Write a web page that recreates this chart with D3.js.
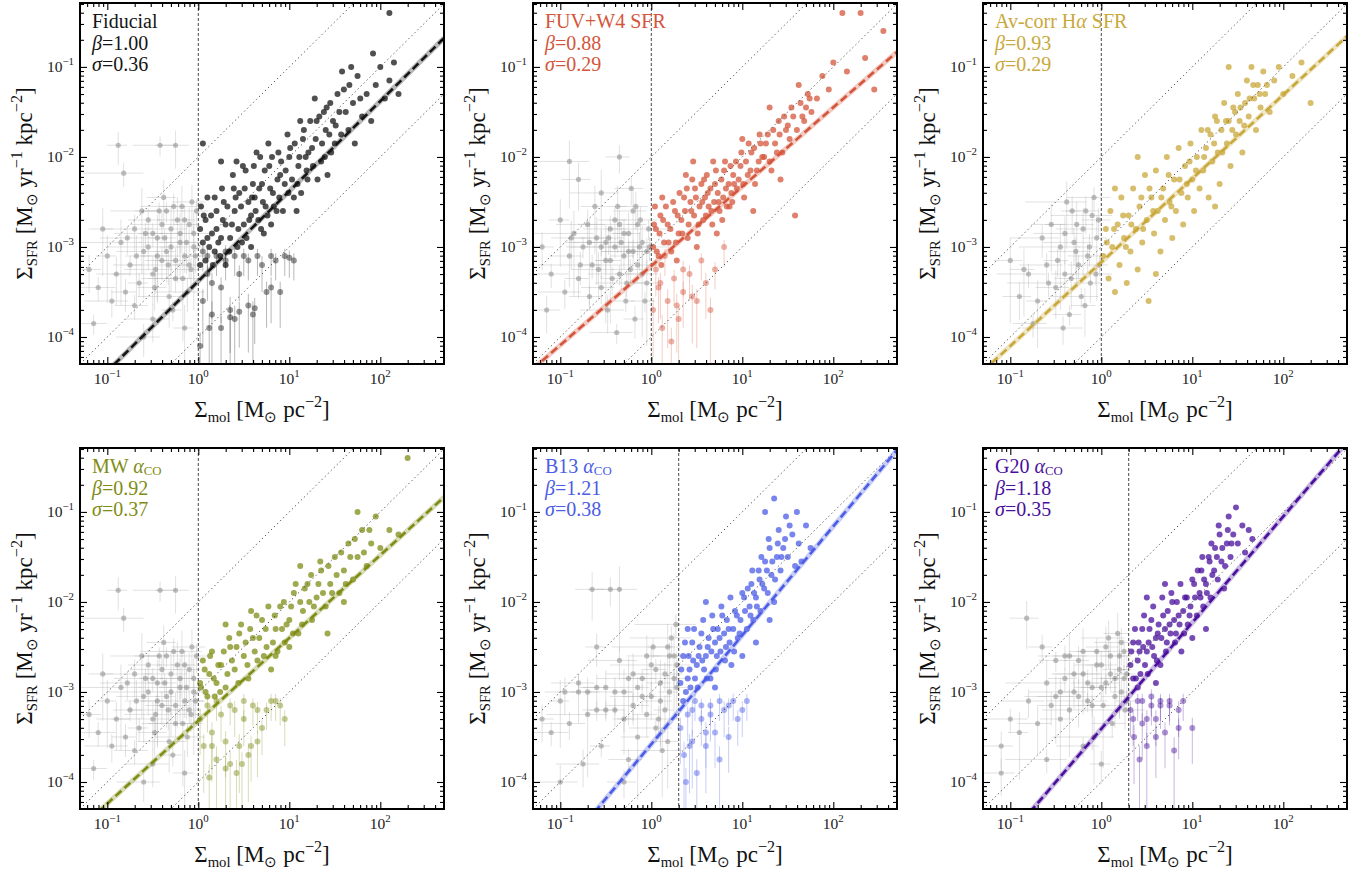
<!DOCTYPE html>
<html>
<head>
<meta charset="utf-8">
<script src="https://cdn.jsdelivr.net/npm/d3@7"></script>
<style>
body { margin: 0; background: #fff; }
text { font-family: "Liberation Serif", "Times New Roman", serif; }
</style>
</head>
<body>
<script>
// all point values are log10(Sigma_mol), log10(Sigma_SFR) [, fractional y error]
var fiducialPts = [
  [0.05,-3.6,0.7],[0.1,-3.3,0.5],[0.15,-3.75,0.8],[0.2,-3.1,0.4],[0.25,-3.45,0.6],[0.3,-3.15,0.4],[0.35,-3.7,0.8],
  [0.4,-3.8,0.8],[0.45,-3.3,0.5],[0.5,-3.1,0.4],[0.55,-3.65,0.7],[0.6,-3.75,0.8],[0.7,-3.2,0.5],[0.75,-3.5,0.6],
  [0.05,-3.05,0.4],[0.12,-3.9,0.85],[0.65,-3.1,0.4],[0.85,-3.15,0.4],[0.95,-3.1,0.4],[1.05,-3.15,0.4],[0.02,-4.1,0.85],
  [0.1,-3.1,0.4],[0.3,-3.05,0.35],[0.4,-3.1,0.4],[0.55,-3.15,0.4],[0.8,-3.1,0.4],[1.0,-3.12,0.4],[0.35,-3.78,0.6],
  [0.45,-3.72,0.6],[0.62,-3.68,0.6],[0.25,-3.9,0.7],[0.15,-3.4,0.6],[0.9,-3.5,0.6],[0.8,-3.45,0.6],
  [0.02,-2.8],[0.05,-2.95],[0.08,-2.7],[0.12,-3.0],[0.15,-2.85],[0.2,-2.6],[0.25,-2.9],[0.3,-2.75],[0.03,-2.55],
  [0.1,-2.45],[0.18,-3.05],[0.28,-2.5],[0.35,-2.9],[0.4,-2.6],[0.45,-2.4],[0.5,-2.75],[0.55,-2.5],[0.6,-2.3],
  [0.38,-2.2],[0.48,-2.95],[0.58,-2.65],[0.42,-2.05],[0.52,-2.15],[0.62,-2.45],[0.66,-2.7],[0.7,-2.3],[0.74,-2.55],
  [0.78,-2.1],[0.82,-2.4],[0.86,-2.6],[0.9,-2.2],[0.68,-2.0],[0.8,-2.75],[0.88,-1.95],[0.72,-2.85],[0.95,-2.3],
  [1.0,-2.0],[1.05,-2.45],[1.1,-2.1],[1.15,-1.8],[1.2,-2.25],[0.98,-1.75],[1.08,-2.6],[1.12,-1.6],[1.18,-2.0],
  [1.25,-1.9],[1.3,-1.6],[1.35,-2.05],[1.4,-1.7],[1.45,-1.4],[1.5,-1.85],[1.28,-1.35],[1.38,-1.5],[1.42,-2.2],
  [1.48,-1.6],[1.55,-1.5],[1.6,-1.25],[1.65,-1.7],[1.7,-1.4],[1.75,-1.1],[1.8,-1.55],[1.85,-1.3],[1.58,-1.05],
  [1.68,-1.0],[1.9,-1.6],[1.72,-1.85],[1.95,-1.2],[2.0,-1.0],[2.05,-1.35],[2.1,-1.15],[2.15,-0.95],[2.2,-1.3],
  [2.1,-0.4],[1.92,-0.85],[0.05,-1.85],[0.25,-2.05],
  [0.1,-2.9],[0.14,-2.65],[0.2,-2.8],[0.24,-3.1],[0.27,-2.7],[0.32,-2.55],[0.34,-3.05],[0.37,-2.75],[0.41,-2.45],
  [0.44,-2.8],[0.47,-2.55],[0.51,-2.35],[0.53,-2.9],[0.56,-2.7],[0.59,-2.45],[0.61,-2.1],[0.63,-2.6],[0.67,-2.35],
  [0.69,-2.8],[0.71,-2.5],[0.73,-2.15],[0.76,-2.65],[0.79,-2.35],[0.81,-2.0],[0.83,-2.55],[0.87,-2.25],[0.89,-2.45],
  [0.91,-2.05],[0.93,-2.6],[0.96,-2.15],[0.99,-2.4],[1.01,-1.9],[1.03,-2.25],[1.06,-1.85],[1.09,-2.3],[1.11,-2.0],
  [1.13,-2.4],[1.16,-1.7],[1.19,-2.15],[1.21,-1.95],[1.23,-1.6],[1.26,-2.1],[1.29,-1.8],[1.31,-2.25],[1.33,-1.55],
  [1.36,-1.85],[1.39,-2.0],[1.41,-1.45],[1.44,-1.75],[1.46,-1.95],[1.51,-1.65],[1.53,-1.3],[1.57,-1.75],[1.62,-1.5],
  [1.66,-1.2],[1.78,-1.35],[0.08,-3.15],[0.16,-3.2],[0.22,-2.95],[0.3,-3.2],[0.43,-3.0],[0.58,-3.0],[0.06,-2.65],
  [0.18,-2.45],[0.26,-2.35],[0.39,-2.35],[0.49,-2.1],[0.64,-1.95],[0.77,-1.85],[0.02,-3.2]
];
var fiducialGrey = [
  [-1.2,-3.25],[-1.1,-3.45],[-1.0,-3.1],[-0.95,-3.6],[-0.9,-3.3],[-0.85,-2.95],[-0.8,-3.5],[-0.75,-3.2],[-0.7,-2.8],
  [-0.65,-3.4],[-0.6,-3.05],[-0.55,-2.7],[-0.5,-3.3],[-0.45,-2.9],[-0.4,-3.15],[-0.35,-2.6],[-0.3,-3.0],[-0.25,-3.35],
  [-0.2,-2.85],[-0.15,-3.1],[-0.1,-2.75],[-0.05,-3.0],[-0.12,-3.5],[-0.28,-3.7],[-0.5,-3.8],[-0.7,-3.65],[-0.18,-2.55],
  [-0.08,-3.25],[-0.38,-2.45],[-0.62,-2.6],[-0.88,-1.87],[-0.42,-1.87],[-0.25,-1.87],[-0.82,-2.18],[-1.05,-2.8],
  [-0.02,-2.6],[-0.32,-3.55],[-0.15,-3.9],[-0.6,-4.0],[-1.15,-3.85],
  [-0.55,-3.0],[-0.5,-2.85],[-0.45,-3.1],[-0.4,-2.75],[-0.35,-3.05],[-0.3,-2.8],[-0.25,-3.15],[-0.2,-2.95],
  [-0.15,-2.7],[-0.1,-3.2],[-0.05,-2.85],[-0.03,-3.1],[-0.13,-2.95],[-0.23,-2.7],[-0.33,-3.2],[-0.43,-2.6],
  [-0.48,-3.45],[-0.58,-2.85],[-0.68,-3.1],[-0.78,-2.9],[-0.07,-2.5],[-0.17,-3.35],[-0.27,-2.55],[-0.37,-2.9],[-0.47,-3.25]
];
var fuvPts = [
  [0.02,-3.7,0.7],[0.08,-3.45,0.6],[0.12,-3.9,0.8],[0.18,-3.6,0.7],[0.25,-3.35,0.5],[0.3,-3.8,0.8],[0.35,-3.5,0.6],
  [0.42,-3.3,0.5],[0.5,-3.6,0.7],[0.05,-3.25,0.5],[0.6,-3.4,0.6],[0.15,-3.1,0.4],[0.7,-3.25,0.4],[0.22,-4.05,0.85],
  [0.1,-3.4,0.6],[0.35,-3.25,0.5],[0.55,-3.15,0.4],[0.45,-3.55,0.7],[0.28,-3.65,0.7],[0.8,-3.0,0.4],[0.65,-3.7,0.75],
  [0.02,-3.0],[0.05,-2.8],[0.08,-3.1],[0.1,-2.65],[0.14,-2.95],[0.18,-2.75],[0.22,-3.05],[0.26,-2.6],[0.3,-2.85],
  [0.04,-2.55],[0.12,-2.45],[0.28,-3.15],[0.33,-2.7],[0.36,-2.45],[0.4,-2.9],[0.44,-2.6],[0.48,-2.35],[0.52,-2.75],
  [0.56,-2.5],[0.6,-2.65],[0.38,-2.2],[0.5,-3.0],[0.58,-2.25],[0.46,-2.05],[0.62,-2.4],[0.66,-2.6],[0.7,-2.3],
  [0.74,-2.5],[0.78,-2.7],[0.82,-2.35],[0.86,-2.55],[0.9,-2.2],[0.68,-2.05],[0.8,-2.15],[0.72,-2.85],[0.88,-2.4],
  [0.94,-2.35],[0.98,-2.1],[1.02,-2.45],[1.06,-2.2],[1.1,-1.95],[1.14,-2.3],[1.18,-2.05],[1.0,-1.8],[1.12,-2.6],
  [1.2,-1.85],[1.24,-2.0],[1.28,-1.75],[1.32,-2.15],[1.36,-1.85],[1.4,-1.6],[1.44,-1.95],[1.48,-1.7],[1.3,-1.45],
  [1.42,-2.25],[1.52,-1.8],[1.56,-1.55],[1.6,-1.7],[1.64,-1.4],[1.68,-1.6],[1.72,-1.3],[1.76,-1.5],[1.58,-2.65],
  [1.62,-1.2],[1.82,-1.35],[1.88,-1.1],[1.95,-1.25],[2.0,-0.95],[2.1,-0.4],[2.3,-0.4],[2.55,-0.6],[2.45,-1.25],
  [2.15,-1.05],[2.35,-0.9],
  [0.03,-2.75],[0.06,-3.05],[0.09,-2.85],[0.11,-3.2],[0.13,-2.7],[0.16,-2.55],[0.19,-2.95],[0.21,-2.8],[0.24,-2.5],
  [0.27,-2.95],[0.29,-2.65],[0.31,-2.4],[0.34,-2.85],[0.37,-2.6],[0.39,-2.35],[0.41,-2.75],[0.43,-2.5],[0.45,-2.25],
  [0.47,-2.65],[0.49,-2.45],[0.51,-2.85],[0.53,-2.55],[0.55,-2.3],[0.57,-2.7],[0.59,-2.45],[0.61,-2.2],[0.63,-2.55],
  [0.65,-2.35],[0.67,-2.75],[0.69,-2.5],[0.71,-2.15],[0.73,-2.4],[0.75,-2.6],[0.77,-2.25],[0.79,-2.45],[0.81,-2.05],
  [0.83,-2.55],[0.85,-2.3],[0.87,-2.1],[0.89,-2.5],[0.91,-2.3],[0.93,-2.05],[0.96,-2.25],[0.99,-1.95],[1.01,-2.3],
  [1.04,-2.05],[1.07,-1.85],[1.09,-2.15],[1.13,-1.9],[1.16,-2.15],[1.19,-1.75],[1.22,-2.0],[1.26,-1.85],[1.3,-2.05],
  [1.34,-1.7],[1.38,-1.95],[1.41,-1.75],[1.46,-1.55],[1.5,-1.65],[1.54,-1.45],[1.66,-1.55],[1.7,-1.45],[1.74,-1.35]
];
var fuvGrey = [
  [-1.2,-3.0],[-1.1,-3.3],[-1.0,-2.7],[-0.95,-3.5],[-0.9,-3.1],[-0.85,-2.85],[-0.8,-3.35],[-0.75,-3.0],[-0.7,-2.75],
  [-0.65,-3.2],[-0.6,-2.9],[-0.55,-3.45],[-0.5,-2.95],[-0.45,-3.15],[-0.4,-2.7],[-0.35,-3.3],[-0.3,-2.85],[-0.25,-3.05],
  [-0.2,-2.6],[-0.15,-3.2],[-0.1,-2.95],[-0.05,-3.4],[-0.12,-2.7],[-0.28,-3.6],[-0.48,-3.7],[-0.68,-3.55],[-0.9,-2.05],
  [-0.35,-2.0],[-0.8,-2.25],[-0.55,-2.4],[-0.18,-3.8],[-0.38,-3.95],[-1.15,-3.7],[-0.02,-3.0],[-0.62,-2.55],[-0.22,-2.35],
  [-0.55,-3.0],[-0.5,-3.15],[-0.45,-2.8],[-0.4,-3.0],[-0.35,-2.75],[-0.3,-3.1],[-0.25,-2.85],[-0.2,-3.05],[-0.15,-2.75],
  [-0.1,-3.3],[-0.05,-3.05],[-0.03,-2.8],[-0.13,-3.0],[-0.23,-3.25],[-0.33,-2.95],[-0.43,-3.35],[-0.58,-3.25],
  [-0.68,-2.95],[-0.78,-3.2],[-0.07,-3.6],[-0.17,-2.55],[-0.27,-3.4],[-0.37,-2.55],[-0.47,-2.9],[-0.88,-2.9]
];
var halphaPts = [
  [0.02,-3.1],[0.05,-2.8],[0.08,-3.35],[0.1,-2.6],[0.12,-3.0],[0.15,-3.5],[0.18,-2.75],[0.2,-3.2],[0.22,-2.45],
  [0.25,-2.9],[0.28,-3.4],[0.3,-2.65],[0.32,-3.05],[0.35,-2.35],[0.38,-2.8],[0.4,-3.25],[0.42,-2.55],[0.45,-2.95],
  [0.48,-2.2],[0.5,-2.7],[0.52,-3.6],[0.55,-2.45],[0.58,-2.85],[0.6,-2.15],[0.62,-2.6],[0.65,-3.05],[0.68,-2.35],
  [0.7,-2.7],[0.72,-2.0],[0.75,-2.5],[0.78,-2.9],[0.8,-2.25],[0.82,-2.6],[0.85,-1.9],[0.88,-2.4],[0.9,-2.75],
  [0.92,-2.1],[0.95,-2.45],[0.98,-1.85],[1.0,-2.25],[1.02,-2.6],[1.05,-2.0],[1.08,-2.35],[1.1,-1.7],[1.12,-2.15],
  [1.15,-1.9],[1.18,-2.45],[1.2,-1.75],[1.22,-2.05],[1.25,-1.55],[1.28,-1.95],[1.3,-2.3],[1.32,-1.7],[1.35,-1.4],
  [1.38,-1.85],[1.4,-1.6],[1.42,-2.1],[1.45,-1.45],[1.48,-1.75],[1.5,-1.3],[1.52,-1.6],[1.55,-1.95],[1.58,-1.4],
  [1.6,-1.15],[1.62,-1.55],[1.65,-1.0],[1.68,-1.35],[1.7,-1.7],[1.72,-1.2],[1.75,-1.45],[1.78,-1.05],[1.8,-1.3],
  [1.85,-1.5],[1.9,-1.15],[1.95,-1.0],[2.0,-1.3],[2.1,-1.1],[2.2,-0.95],[2.3,-1.4],[1.4,-1.0],[0.4,-2.0],
  [0.15,-2.35],[1.25,-2.55],[0.6,-3.3],
  [0.06,-2.95],[0.14,-2.8],[0.24,-2.65],[0.33,-2.75],[0.44,-2.45],[0.53,-2.35],[0.57,-2.6],[0.66,-2.45],[0.74,-2.2],
  [0.77,-2.55],[0.86,-2.25],[0.94,-2.3],[0.97,-2.05],[1.04,-2.15],[1.13,-2.0],[1.17,-1.7],[1.24,-1.85],[1.27,-1.6],
  [1.33,-1.95],[1.37,-1.6],[1.44,-1.7],[1.47,-1.5],[1.53,-1.45],[1.57,-1.65],[1.63,-1.35],[1.67,-1.2],[1.74,-1.3],
  [1.82,-1.2],[0.27,-3.0],[0.46,-2.8]
];
var halphaGrey = [
  [-0.9,-3.55],[-0.8,-3.3],[-0.7,-3.6],[-0.6,-3.2],[-0.5,-3.45],[-0.45,-3.0],[-0.4,-3.3],[-0.35,-3.75],[-0.3,-2.95],
  [-0.25,-3.2],[-0.2,-2.8],[-0.15,-3.1],[-0.1,-2.65],[-0.05,-2.9],[-0.12,-3.4],[-0.22,-3.55],[-0.32,-2.6],[-0.08,-2.45],
  [-0.55,-2.75],[-0.42,-3.9],[-0.18,-3.65],[-1.0,-3.15],[-0.65,-2.9],[-0.02,-3.2],[-0.28,-3.05],[-0.75,-3.85],[-0.38,-2.5],
  [-0.48,-3.15],[-0.33,-3.35],[-0.27,-2.75],[-0.13,-3.0],[-0.06,-3.3],[-0.17,-2.6],[-0.58,-3.4],[-0.85,-3.25],
  [-0.03,-2.7],[-0.4,-2.85]
];
var mwPts = [
  [0.02,-3.3,0.6],[0.06,-3.6,0.7],[0.1,-3.15,0.5],[0.15,-3.45,0.6],[0.2,-3.75,0.8],[0.25,-3.25,0.5],[0.3,-3.55,0.6],
  [0.35,-3.8,0.8],[0.4,-3.2,0.5],[0.45,-3.6,0.7],[0.5,-3.3,0.5],[0.55,-3.7,0.7],[0.6,-3.15,0.4],[0.7,-3.4,0.5],
  [0.75,-3.2,0.4],[0.8,-3.1,0.4],[0.9,-3.15,0.4],[0.12,-3.95,0.8],[0.65,-3.55,0.6],[0.42,-3.9,0.8],
  [0.2,-3.1,0.4],[0.35,-3.15,0.4],[0.5,-3.1,0.4],[0.65,-3.2,0.45],[0.85,-3.1,0.4],[0.3,-3.85,0.7],[0.48,-3.8,0.7],
  [0.58,-3.6,0.6],[0.95,-3.3,0.5],[0.15,-3.6,0.6],
  [0.02,-2.9],[0.05,-2.65],[0.08,-3.0],[0.12,-2.8],[0.15,-2.55],[0.2,-2.9],[0.25,-2.7],[0.3,-2.95],[0.35,-2.5],
  [0.4,-2.75],[0.45,-2.35],[0.5,-2.6],[0.55,-2.85],[0.6,-2.4],[0.65,-2.65],[0.7,-2.2],[0.75,-2.5],[0.8,-2.75],
  [0.85,-2.3],[0.9,-2.05],[0.95,-2.45],[1.0,-2.2],[1.05,-1.9],[1.1,-2.35],[1.15,-2.1],[1.2,-1.8],[1.25,-2.2],
  [1.3,-1.95],[1.35,-1.65],[1.4,-2.05],[1.45,-1.8],[1.5,-1.5],[1.55,-1.9],[1.6,-1.65],[1.65,-1.35],[1.7,-1.75],
  [1.75,-1.5],[1.8,-1.2],[1.85,-1.6],[1.9,-1.35],[1.95,-1.05],[2.0,-1.4],[2.1,-1.2],[2.2,-1.25],[2.3,-0.4],
  [1.75,-1.0],[0.3,-2.25],[0.58,-2.1],[1.12,-1.6],[1.42,-2.35],[1.6,-2.0],[0.85,-2.6],[0.18,-3.05],[1.0,-2.5],
  [0.03,-2.95],[0.07,-2.75],[0.1,-3.05],[0.13,-2.6],[0.17,-2.85],[0.22,-2.7],[0.24,-3.0],[0.28,-2.55],[0.32,-2.8],
  [0.34,-2.4],[0.37,-2.65],[0.42,-2.5],[0.44,-2.9],[0.47,-2.25],[0.52,-2.45],[0.54,-2.7],[0.57,-2.3],[0.62,-2.55],
  [0.64,-2.15],[0.67,-2.4],[0.72,-2.6],[0.74,-2.3],[0.77,-2.05],[0.82,-2.45],[0.84,-2.15],[0.87,-2.55],[0.92,-2.3],
  [0.94,-2.0],[0.97,-2.25],[1.02,-2.05],[1.04,-2.35],[1.07,-1.8],[1.12,-2.0],[1.14,-2.25],[1.17,-1.85],[1.22,-2.0],
  [1.24,-1.7],[1.27,-2.05],[1.32,-1.8],[1.34,-1.55],[1.37,-1.9],[1.43,-1.6],[1.47,-1.9],[1.52,-1.7],[1.57,-1.45],
  [1.62,-1.8],[1.67,-1.5],[1.72,-1.3],[1.82,-1.45],[1.88,-1.2]
];
var b13Pts = [
  [0.32,-3.4,0.6],[0.36,-3.7,0.8],[0.4,-3.25,0.5],[0.45,-3.55,0.7],[0.5,-3.9,0.85],[0.55,-3.3,0.5],[0.6,-3.6,0.7],
  [0.65,-3.15,0.4],[0.7,-3.45,0.6],[0.75,-3.75,0.8],[0.8,-3.2,0.5],[0.85,-3.5,0.6],[0.9,-3.1,0.4],[1.0,-3.2,0.5],
  [1.05,-3.1,0.4],[0.38,-4.0,0.85],[0.48,-3.1,0.4],[0.45,-3.2,0.5],[0.55,-3.15,0.4],[0.65,-3.25,0.5],[0.75,-3.1,0.4],
  [0.85,-3.15,0.4],[0.95,-3.3,0.5],[0.6,-3.45,0.6],[0.42,-3.6,0.7],
  [0.32,-2.9],[0.35,-2.6],[0.38,-3.0],[0.42,-2.75],[0.45,-2.45],[0.48,-2.85],[0.52,-2.6],[0.55,-2.35],[0.58,-2.75],
  [0.62,-2.5],[0.65,-2.85],[0.68,-2.3],[0.72,-2.6],[0.75,-2.4],[0.78,-2.15],[0.82,-2.5],[0.85,-2.3],[0.88,-2.7],
  [0.92,-2.1],[0.95,-2.4],[0.98,-2.2],[1.02,-1.95],[1.05,-2.3],[1.08,-2.05],[1.1,-1.8],[1.12,-2.2],[1.15,-1.95],
  [1.18,-1.65],[1.2,-2.1],[1.22,-1.8],[1.25,-1.55],[1.28,-1.9],[1.3,-1.4],[1.32,-1.7],[1.35,-2.0],[1.38,-1.5],
  [1.4,-1.2],[1.42,-1.65],[1.45,-1.4],[1.48,-1.05],[1.5,-1.5],[1.55,-1.25],[1.58,-1.6],[1.6,-1.0],[1.62,-1.35],
  [1.65,-1.55],[1.7,-1.15],[1.25,-1.0],[1.35,-0.85],[0.6,-2.0],[0.4,-2.3],[1.0,-2.6],[1.15,-2.45],[0.7,-2.95],
  [1.3,-2.2],[1.75,-1.4],
  [0.33,-2.75],[0.35,-3.1],[0.37,-2.45],[0.4,-2.85],[0.41,-2.6],[0.43,-2.95],[0.46,-2.65],[0.47,-2.3],[0.5,-2.7],
  [0.51,-2.95],[0.53,-2.5],[0.56,-2.65],[0.57,-2.2],[0.6,-2.6],[0.61,-2.85],[0.63,-2.4],[0.66,-2.55],[0.67,-2.15],
  [0.7,-2.45],[0.71,-2.75],[0.73,-2.3],[0.76,-2.55],[0.77,-2.05],[0.8,-2.35],[0.81,-2.65],[0.83,-2.2],[0.86,-2.45],
  [0.87,-1.95],[0.9,-2.3],[0.91,-2.55],[0.94,-2.15],[0.97,-2.35],[1.0,-1.9],[1.03,-2.1],[1.06,-1.85],[1.09,-2.15],
  [1.11,-1.65],[1.13,-1.9],[1.16,-2.05],[1.19,-1.75],[1.21,-1.5],[1.24,-1.85],[1.27,-1.65],[1.29,-1.3],[1.33,-1.55],
  [1.36,-1.75],[1.39,-1.35],[1.43,-1.5],[1.47,-1.3],[1.52,-1.15]
];
var b13Grey = [
  [-1.2,-3.3],[-1.1,-3.45],[-1.0,-3.1],[-0.9,-3.35],[-0.8,-3.0],[-0.7,-3.25],[-0.6,-2.95],[-0.5,-3.2],[-0.4,-3.0],
  [-0.3,-3.3],[-0.2,-2.8],[-0.1,-3.05],[0.0,-2.7],[0.1,-2.9],[0.2,-2.6],[0.25,-2.85],[0.15,-3.2],[0.05,-3.4],
  [-0.05,-2.6],[0.22,-2.4],[0.28,-2.95],[-0.15,-3.5],[-0.35,-2.65],[-0.55,-3.6],[-0.75,-3.8],[-0.25,-3.75],
  [0.12,-3.65],[-0.45,-1.86],[-0.65,-1.86],[-0.35,-1.86],[-0.6,-2.5],[-0.8,-2.9],[-0.95,-3.0],[0.27,-2.25],
  [0.18,-3.55],[-0.3,-4.0],[-1.0,-4.0],
  [-0.3,-3.0],[-0.2,-3.15],[-0.1,-2.85],[0.0,-3.05],[0.05,-2.75],[0.1,-3.1],[0.15,-2.8],[0.2,-3.0],[0.25,-2.6],
  [0.28,-2.7],[0.02,-2.5],[-0.05,-3.25],[-0.15,-2.95],[-0.25,-2.85],[-0.4,-3.2],[-0.5,-2.95],[0.18,-2.5],[0.08,-3.3],
  [-0.6,-3.2],[-0.7,-3.0]
];
var g20Pts = [
  [0.32,-3.2,0.5],[0.36,-3.5,0.7],[0.4,-3.1,0.4],[0.45,-3.35,0.6],[0.5,-3.6,0.8],[0.55,-3.15,0.4],[0.6,-3.3,0.5],
  [0.65,-3.1,0.4],[0.7,-3.45,0.6],[0.75,-3.15,0.4],[0.8,-3.65,0.8],[0.85,-3.2,0.5],[0.9,-3.1,0.4],[0.42,-3.75,0.85],
  [1.0,-3.4,0.6],[0.45,-3.1,0.4],[0.55,-3.05,0.4],[0.65,-3.15,0.45],[0.75,-3.1,0.4],[0.6,-3.5,0.65],[0.5,-3.3,0.5],
  [0.85,-3.4,0.55],[0.35,-3.3,0.5],
  [0.32,-2.7],[0.35,-2.45],[0.38,-2.85],[0.42,-2.55],[0.45,-2.3],[0.48,-2.7],[0.52,-2.45],[0.55,-2.2],[0.58,-2.6],
  [0.62,-2.35],[0.65,-2.7],[0.68,-2.15],[0.72,-2.45],[0.75,-2.25],[0.78,-2.0],[0.82,-2.35],[0.85,-2.15],[0.88,-2.55],
  [0.92,-1.95],[0.95,-2.25],[0.98,-2.05],[1.02,-1.8],[1.05,-2.15],[1.08,-1.9],[1.1,-1.65],[1.12,-2.05],[1.15,-1.8],
  [1.18,-1.5],[1.2,-1.95],[1.22,-1.7],[1.25,-1.4],[1.28,-1.75],[1.3,-1.25],[1.32,-1.55],[1.35,-1.85],[1.38,-1.35],
  [1.4,-1.05],[1.42,-1.5],[1.45,-1.25],[1.48,-0.95],[1.5,-1.35],[1.55,-1.15],[1.58,-1.45],[1.62,-1.2],[1.66,-1.3],
  [0.5,-1.95],[0.7,-1.8],[1.0,-2.4],[1.15,-2.3],[0.4,-2.95],[0.6,-2.9],
  [0.33,-2.55],[0.35,-2.85],[0.37,-2.3],[0.4,-2.65],[0.41,-2.45],[0.43,-2.8],[0.46,-2.5],[0.47,-2.15],[0.5,-2.55],
  [0.51,-2.8],[0.53,-2.3],[0.56,-2.5],[0.57,-2.05],[0.6,-2.4],[0.61,-2.65],[0.63,-2.25],[0.66,-2.4],[0.67,-1.95],
  [0.7,-2.3],[0.71,-2.55],[0.73,-2.1],[0.76,-2.35],[0.77,-1.9],[0.8,-2.2],[0.81,-2.45],[0.83,-2.0],[0.86,-2.25],
  [0.87,-1.8],[0.9,-2.1],[0.91,-2.35],[0.94,-1.95],[0.97,-2.15],[1.0,-1.75],[1.03,-1.95],[1.06,-1.65],[1.09,-1.95],
  [1.11,-1.5],[1.13,-1.75],[1.16,-1.9],[1.19,-1.55],[1.21,-1.35],[1.24,-1.65],[1.27,-1.5],[1.29,-1.15],[1.33,-1.4],
  [1.36,-1.6],[1.39,-1.2],[1.43,-1.35]
];
var g20Grey = [
  [-1.1,-3.6],[-1.0,-3.3],[-0.9,-3.45],[-0.8,-3.1],[-0.7,-3.35],[-0.6,-2.9],[-0.55,-3.15],[-0.5,-2.65],[-0.45,-3.0],
  [-0.4,-2.6],[-0.35,-3.2],[-0.3,-2.8],[-0.25,-3.05],[-0.2,-2.55],[-0.15,-2.9],[-0.1,-3.15],[-0.05,-2.7],[0.0,-2.95],
  [0.05,-2.5],[0.1,-2.8],[0.15,-3.05],[0.2,-2.6],[0.25,-2.85],[0.28,-3.1],[0.22,-2.45],[0.12,-3.35],[-0.08,-3.5],
  [-0.65,-2.5],[-0.82,-2.18],[-0.35,-2.6],[0.0,-3.8],[-0.2,-3.6],[-1.1,-3.9],[-0.6,-3.75],[0.18,-2.35],
  [-0.3,-3.0],[-0.2,-2.8],[-0.1,-2.95],[0.0,-2.7],[0.05,-2.9],[0.1,-2.6],[0.15,-2.85],[0.2,-2.75],[0.25,-2.55],
  [0.28,-2.8],[0.02,-3.15],[-0.05,-2.55],[-0.15,-3.1],[-0.25,-2.65],[-0.4,-2.85],[-0.5,-3.05],[0.22,-3.0],[0.08,-2.4],
  [-0.45,-3.3],[0.26,-3.2]
];

var panelNames = ["Fiducial", "FUV+W4 SFR", "Av-corr H\u03b1 SFR", "MW \u03b1CO", "B13 \u03b1CO", "G20 \u03b1CO"];
var panelBetas = [1.00, 0.88, 0.93, 0.92, 1.21, 1.18];
var panelSigmas = [0.36, 0.29, 0.29, 0.37, 0.38, 0.35];
var fitIntercepts = [-3.38, -3.21, -3.17, -3.32, -3.58, -3.41];
var molCutoffs = [1, 1, 1, 1, 2, 2];
var panelColors = ["#151515", "#d4553b", "#c9a83b", "#7f8c14", "#4b5ce6", "#4a0f9c"];
var depletionGyr = [0.1, 1, 10];
var greyXErr = [0.35, 0.55, 0.25, 0.5, 0.4, 0.65, 0.3];
var greyYErr = [0.45, 0.3, 0.7, 0.35, 0.55, 0.8, 0.4, 0.25];
var xDecades = [-1, 0, 1, 2];
var yDecades = [-4, -3, -2, -1];

var panelPts = [fiducialPts, fuvPts, halphaPts, mwPts, b13Pts, g20Pts];
var panelGrey = [fiducialGrey, fuvGrey, halphaGrey, fiducialGrey, b13Grey, g20Grey];

var W = 1367, H = 874;
var colX = [80, 533, 983];
var rowY = [3, 448];
var pw = 364, ph = 361;

var svg = d3.select("body").append("svg").attr("width", W).attr("height", H);

var x = d3.scaleLog().domain([Math.pow(10, -1.3), Math.pow(10, 2.7)]).range([0, pw]);
var y = d3.scaleLog().domain([Math.pow(10, -4.3), Math.pow(10, -0.29)]).range([ph, 0]);
var p10 = function (v) { return Math.pow(10, v); };

var minorX = [], minorY = [];
for (var d = -2; d <= 2; d++) {
  for (var m = 2; m <= 9; m++) {
    var v = m * Math.pow(10, d);
    if (v > x.domain()[0] && v < x.domain()[1]) minorX.push(v);
  }
}
for (var d2 = -5; d2 <= -1; d2++) {
  for (var m2 = 2; m2 <= 9; m2++) {
    var v2 = m2 * Math.pow(10, d2);
    if (v2 > y.domain()[0] && v2 < y.domain()[1]) minorY.push(v2);
  }
}

// text with sub/superscripts and italics
function rich(sel, parts, size, subDrop) {
  var off = 0;
  var drop = subDrop || 0.2;
  parts.forEach(function (p) {
    var t = sel.append("tspan").text(p[0]);
    var target = 0, fs = size;
    if (p[1] == "sub") { target = size * drop; fs = size * 0.64; }
    if (p[1] == "sup") { target = -size * 0.42; fs = size * 0.7; }
    if (p[1] == "it") t.attr("font-style", "italic");
    t.attr("font-size", fs).attr("dy", target - off);
    off = target;
  });
}

function nameParts(i) {
  if (i == 2) return [["Av-corr H"], ["\u03b1", "it"], [" SFR"]];
  if (i >= 3) return [[panelNames[i].split(" ")[0] + " "], ["\u03b1", "it"], ["CO", "sub"]];
  return [[panelNames[i]]];
}

function drawPanel(i) {
  var ox = colX[i % 3], oy = rowY[Math.floor(i / 3)];
  var col = panelColors[i];
  var g = svg.append("g").attr("transform", "translate(" + ox + "," + oy + ")");

  g.append("clipPath").attr("id", "clip" + i)
    .append("rect").attr("width", pw).attr("height", ph);
  var inner = g.append("g").attr("clip-path", "url(#clip" + i + ")");

  // grey points below the cutoff
  var grey = panelGrey[i].filter(function (p) { return p10(p[0]) < molCutoffs[i]; });
  grey.forEach(function (p, k) {
    var xv = p10(p[0]), yv = p10(p[1]);
    var fx = greyXErr[k % greyXErr.length], fy = greyYErr[k % greyYErr.length];
    inner.append("line").attr("x1", x(xv * (1 - fx))).attr("x2", x(xv * (1 + fx)))
      .attr("y1", y(yv)).attr("y2", y(yv))
      .attr("stroke", "#aaa").attr("stroke-opacity", 0.35).attr("stroke-width", 1);
    inner.append("line").attr("x1", x(xv)).attr("x2", x(xv))
      .attr("y1", y(yv * (1 - fy))).attr("y2", y(yv * (1 + fy)))
      .attr("stroke", "#aaa").attr("stroke-opacity", 0.35).attr("stroke-width", 1);
  });
  inner.selectAll(".gp").data(grey).enter().append("circle")
    .attr("cx", function (p) { return x(p10(p[0])); })
    .attr("cy", function (p) { return y(p10(p[1])); })
    .attr("r", 2.6).attr("fill", "#8c8c8c").attr("fill-opacity", 0.55);

  // coloured points
  var pts = panelPts[i];
  pts.forEach(function (p) {
    if (p.length < 3) return;
    var xv = p10(p[0]), yv = p10(p[1]);
    inner.append("line").attr("x1", x(xv)).attr("x2", x(xv))
      .attr("y1", y(yv * (1 - p[2]))).attr("y2", y(yv * (1 + p[2] * 0.5)))
      .attr("stroke", col).attr("stroke-opacity", 0.3).attr("stroke-width", 1);
  });
  inner.selectAll(".cp").data(pts).enter().append("circle")
    .attr("cx", function (p) { return x(p10(p[0])); })
    .attr("cy", function (p) { return y(p10(p[1])); })
    .attr("r", 3).attr("fill", col)
    .attr("fill-opacity", function (p) { return p.length > 2 ? 0.45 : 0.75; });

  // constant depletion time lines
  depletionGyr.forEach(function (t) {
    var xs = x.domain();
    inner.append("line")
      .attr("x1", x(xs[0])).attr("y1", y(xs[0] * 1e-3 / t))
      .attr("x2", x(xs[1])).attr("y2", y(xs[1] * 1e-3 / t))
      .attr("stroke", "#444").attr("stroke-width", 1).attr("stroke-dasharray", "1.2,3");
  });

  // cutoff
  inner.append("line").attr("x1", x(molCutoffs[i])).attr("x2", x(molCutoffs[i]))
    .attr("y1", 0).attr("y2", ph)
    .attr("stroke", "#333").attr("stroke-width", 0.9).attr("stroke-dasharray", "3,2");

  // fit
  var xs2 = x.domain();
  var fy0 = p10(fitIntercepts[i]) * Math.pow(xs2[0], panelBetas[i]);
  var fy1 = p10(fitIntercepts[i]) * Math.pow(xs2[1], panelBetas[i]);
  inner.append("line").attr("x1", x(xs2[0])).attr("y1", y(fy0)).attr("x2", x(xs2[1])).attr("y2", y(fy1))
    .attr("stroke", col).attr("stroke-opacity", 0.3).attr("stroke-width", 5);
  inner.append("line").attr("x1", x(xs2[0])).attr("y1", y(fy0)).attr("x2", x(xs2[1])).attr("y2", y(fy1))
    .attr("stroke", col).attr("stroke-width", 2.6).attr("stroke-dasharray", "8,4");

  // ticks on all four sides, pointing in
  function tickAxes(axisFn, scale, major, minor, tr) {
    var a1 = g.append("g").attr("transform", tr)
      .call(axisFn(scale).tickValues(major).tickSize(-7).tickFormat(""));
    var a2 = g.append("g").attr("transform", tr)
      .call(axisFn(scale).tickValues(minor).tickSize(-4).tickFormat(""));
    [a1, a2].forEach(function (a) {
      a.select(".domain").remove();
      a.selectAll("line").attr("stroke", "#000").attr("stroke-width", 1.1);
    });
  }
  var majX = xDecades.map(p10), majY = yDecades.map(p10);
  tickAxes(d3.axisBottom, x, majX, minorX, "translate(0," + ph + ")");
  tickAxes(d3.axisTop, x, majX, minorX, "translate(0,0)");
  tickAxes(d3.axisLeft, y, majY, minorY, "translate(0,0)");
  tickAxes(d3.axisRight, y, majY, minorY, "translate(" + pw + ",0)");

  g.append("rect").attr("width", pw).attr("height", ph)
    .attr("fill", "none").attr("stroke", "#000").attr("stroke-width", 2);

  // tick labels
  xDecades.forEach(function (e) {
    var t = g.append("text").attr("x", x(p10(e))).attr("y", ph + 20)
      .attr("text-anchor", "middle").attr("fill", "#222");
    rich(t, [["10"], [e < 0 ? "\u2212" + (-e) : "" + e, "sup"]], 15.5);
  });
  yDecades.forEach(function (e) {
    var t = g.append("text").attr("x", -6).attr("y", y(p10(e)) + 5)
      .attr("text-anchor", "end").attr("fill", "#222");
    rich(t, [["10"], ["\u2212" + (-e), "sup"]], 15.5);
  });

  // axis titles
  var xt = g.append("text").attr("x", pw / 2).attr("y", ph + 53)
    .attr("text-anchor", "middle").attr("fill", "#111");
  rich(xt, [["\u03a3"], ["mol", "sub"], [" [M"], ["\u2299", "sub"], [" pc"], ["\u22122", "sup"], ["]"]], 23);
  var yt = g.append("text").attr("transform", "translate(-48," + (ph / 2) + ") rotate(-90)")
    .attr("text-anchor", "middle").attr("fill", "#111");
  rich(yt, [["\u03a3"], ["SFR", "sub"], [" [M"], ["\u2299", "sub"], [" yr"], ["\u22121", "sup"], [" kpc"], ["\u22122", "sup"], ["]"]], 23);

  // annotation
  var lines = [nameParts(i),
    [["\u03b2", "it"], ["=" + panelBetas[i].toFixed(2)]],
    [["\u03c3", "it"], ["=" + panelSigmas[i].toFixed(2)]]];
  lines.forEach(function (parts, k) {
    var t = g.append("text").attr("x", 12).attr("y", 25 + k * 21.5).attr("fill", col);
    rich(t, parts, 20, 0.12);
  });
}

for (var i = 0; i < 6; i++) drawPanel(i);
</script>
</body>
</html>
